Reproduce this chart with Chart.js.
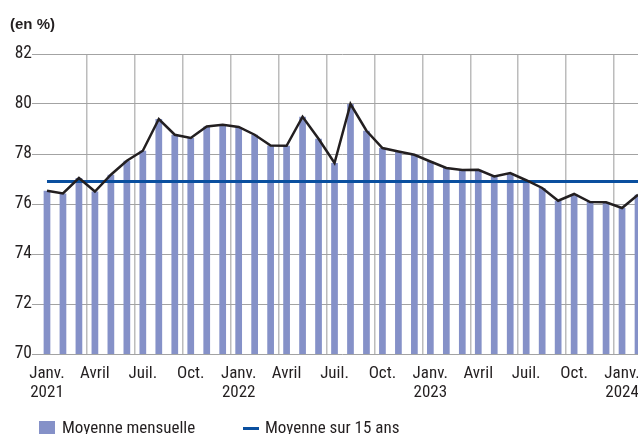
<!DOCTYPE html>
<html>
<head>
<meta charset="utf-8">
<script src="https://cdn.jsdelivr.net/npm/chart.js@4.4.1/dist/chart.umd.min.js"></script>
<style>
  html, body { margin: 0; padding: 0; background: #fff; }
  #wrap { position: relative; width: 638px; height: 434px; overflow: hidden; }
  #chart { position: absolute; left: 0; top: 0; }
  .unit { position: absolute; left: 10px; top: 15px; font: bold 15px/17px 'Liberation Sans', Arial, sans-serif; color: #231f20; }
  .leg { position: absolute; top: 417px; font: 17px/20px 'Roboto Condensed', 'Liberation Sans', sans-serif; color: #231f20; white-space: nowrap; }
  .sw-bar { position: absolute; left: 39px; top: 421px; width: 16px; height: 16px; background: #8591c8; }
  .sw-line { position: absolute; left: 243px; top: 427px; width: 16px; height: 3px; background: #0a4f9f; }
</style>
</head>
<body>
<div id="wrap">
  <canvas id="chart" width="660" height="434"></canvas>
  <div class="unit">(en %)</div>
  <div class="sw-bar"></div><div class="leg" style="left:62px">Moyenne mensuelle</div>
  <div class="sw-line"></div><div class="leg" style="left:265px">Moyenne sur 15 ans</div>
</div>
<script>
  // ---- data ----
  const months = [
    'janv. 2021','févr. 2021','mars 2021','avr. 2021','mai 2021','juin 2021',
    'juil. 2021','août 2021','sept. 2021','oct. 2021','nov. 2021','déc. 2021',
    'janv. 2022','févr. 2022','mars 2022','avr. 2022','mai 2022','juin 2022',
    'juil. 2022','août 2022','sept. 2022','oct. 2022','nov. 2022','déc. 2022',
    'janv. 2023','févr. 2023','mars 2023','avr. 2023','mai 2023','juin 2023',
    'juil. 2023','août 2023','sept. 2023','oct. 2023','nov. 2023','déc. 2023',
    'janv. 2024','févr. 2024'
  ];
  const monthly = [
    76.53, 76.42, 77.04, 76.50, 77.17, 77.73, 78.13, 79.40, 78.77, 78.64, 79.10, 79.17,
    79.08, 78.77, 78.34, 78.33, 79.49, 78.61, 77.64, 80.00, 78.93, 78.24, 78.10, 77.97,
    77.70, 77.44, 77.36, 77.37, 77.10, 77.24, 76.95, 76.64, 76.13, 76.40, 76.08, 76.07,
    75.84, 76.37
  ];
  const avg15 = 76.9;
  const avgSpan = ['janv. 2021', 'févr. 2024'];
  const tickLabels = [
    ['Janv.','2021'],'Avril','Juil.','Oct.',
    ['Janv.','2022'],'Avril','Juil.','Oct.',
    ['Janv.','2023'],'Avril','Juil.','Oct.',
    ['Janv.','2024']
  ];
  const yTicks = [70, 72, 74, 76, 78, 80, 82];

  const narrow = "'Roboto Condensed', 'Liberation Sans', sans-serif";
  const ink = '#231f20';

  new Chart(document.getElementById('chart'), {
    type: 'bar',
    data: {
      labels: months,
      datasets: [
        {
          type: 'line',
          label: 'courbe',
          data: monthly,
          borderColor: ink,
          borderWidth: 2.5,
          pointRadius: 0,
          tension: 0,
          order: 0
        },
        {
          type: 'line',
          label: 'Moyenne sur 15 ans',
          data: avgSpan.map(m => ({ x: m, y: avg15 })),
          borderColor: '#0a4f9f',
          borderWidth: 3,
          pointRadius: 0,
          order: 1
        },
        {
          label: 'Moyenne mensuelle',
          data: monthly,
          backgroundColor: '#8591c8',
          barPercentage: 0.42,
          categoryPercentage: 1,
          order: 2
        }
      ]
    },
    options: {
      responsive: false,
      animation: false,
      layout: { padding: { top: 54, right: 14, bottom: 0, left: 0 } },
      plugins: { legend: { display: false }, tooltip: { enabled: false } },
      scales: {
        x: {
          offset: true,
          border: { display: false },
          grid: {
            offset: true,
            drawTicks: false,
            lineWidth: 1.5,
            color: c => (c.index > 0 && c.index % 3 === 0) ? '#bcbcbc' : 'rgba(0,0,0,0)'
          },
          ticks: {
            autoSkip: false,
            maxRotation: 0,
            padding: 10,
            color: ink,
            font: { family: narrow, size: 17, lineHeight: 1.13 },
            callback: (v, i) => i % 3 === 0 ? tickLabels[i / 3] : ''
          },
          afterFit: s => { s.height = 80; }
        },
        y: {
          min: 70,
          max: 82,
          border: { display: false },
          grid: { color: '#a3a3a3', lineWidth: 1, tickLength: 7 },
          afterBuildTicks: s => { s.ticks = yTicks.map(v => ({ value: v })); },
          ticks: {
            padding: 0,
            color: ink,
            font: { family: narrow, size: 17.5 }
          },
          afterFit: s => { s.width = 39; }
        }
      }
    }
  });
</script>
</body>
</html>
